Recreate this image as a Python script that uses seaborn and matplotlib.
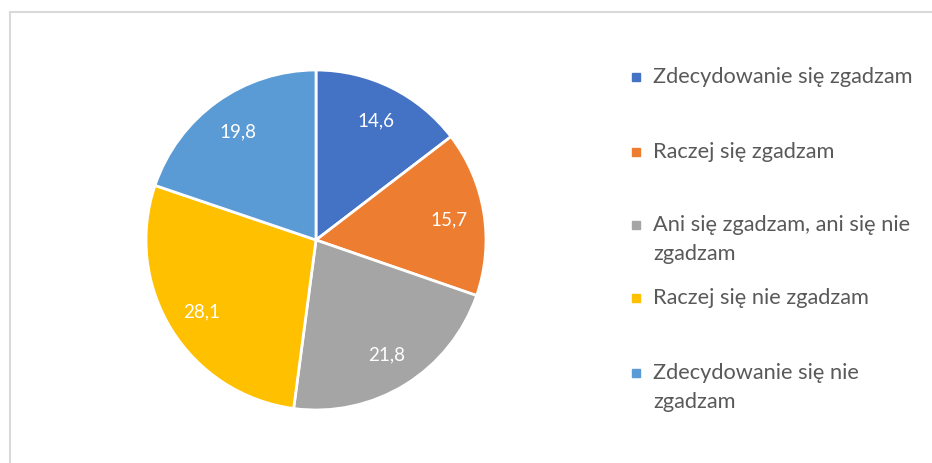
import matplotlib
matplotlib.use("Agg")
import matplotlib.pyplot as plt
import matplotlib.patches as mpatches
import matplotlib.lines as mlines
import seaborn as sns

categories = [
    "Zdecydowanie się zgadzam",
    "Raczej się zgadzam",
    "Ani się zgadzam, ani się nie\nzgadzam",
    "Raczej się nie zgadzam",
    "Zdecydowanie się nie\nzgadzam",
]
values = [14.6, 15.7, 21.8, 28.1, 19.8]
colors = ["#4472C4", "#ED7D31", "#A5A5A5", "#FFC000", "#5B9BD5"]

sns.set_theme(style="white")
plt.rcParams["font.family"] = ["Lato", "DejaVu Sans"]

fig = plt.figure(figsize=(9.32, 4.64), dpi=100)
W, H = 932, 464

# chart area border (top and left visible, rest cropped)
fig.add_artist(mlines.Line2D([10 / W, 1], [1 - 13 / H, 1 - 13 / H], color="#D9D9D9", lw=1.5))
fig.add_artist(mlines.Line2D([10 / W, 10 / W], [0, 1 - 13 / H], color="#D9D9D9", lw=1.5))

ax = fig.add_axes([(316 - 170) / W, (464 - 411) / H, 340 / W, 340 / H])
wedges, texts = ax.pie(
    values,
    colors=colors,
    startangle=90,
    counterclock=False,
    labels=[f"{v:.1f}".replace(".", ",") for v in values],
    labeldistance=0.79,
    wedgeprops=dict(edgecolor="white", linewidth=2),
    textprops=dict(color="white", fontsize=13.5),
)
for t in texts:
    t.set_horizontalalignment("center")
    t.set_verticalalignment("center")
ax.set_xlim(-1.0, 1.0)
ax.set_ylim(-1.0, 1.0)
ax.set_aspect("equal")
ax.axis("off")

# legend, Excel style: evenly spaced slots, text starts at slot top
slot_y = [78, 153, 226, 299, 374]
for lab, c, y in zip(categories, colors, slot_y):
    fig.add_artist(mpatches.Rectangle((632 / W, 1 - (y + 4) / H), 8 / W, 8 / H,
                                      color=c, transform=fig.transFigure))
    fig.text(653 / W, 1 - (y - 11) / H, lab, fontsize=15.7, color="#595959",
             va="top", ha="left", linespacing=1.55)

fig.savefig("out.png", dpi=100)
